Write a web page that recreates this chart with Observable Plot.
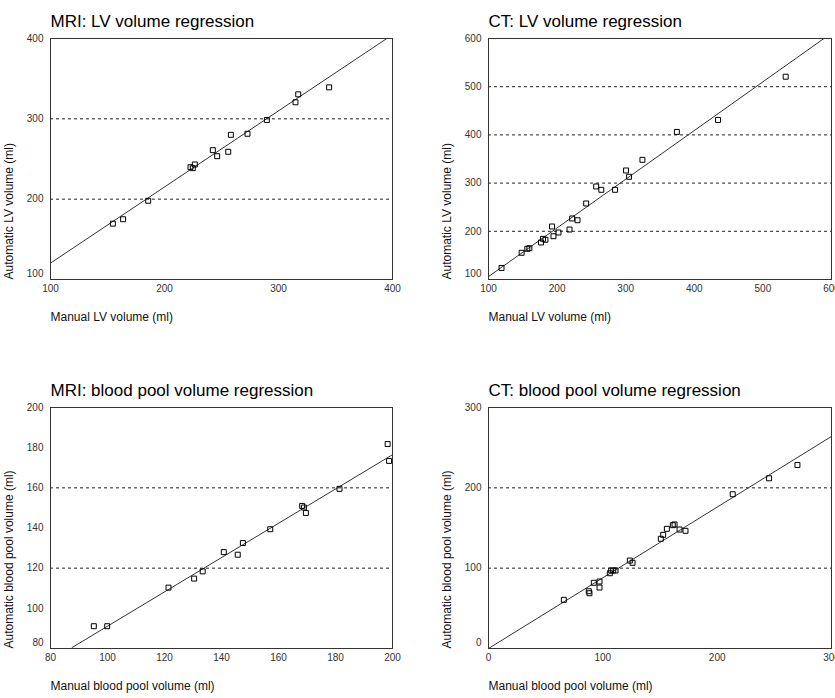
<!DOCTYPE html>
<html>
<head>
<meta charset="utf-8">
<script src="https://cdn.jsdelivr.net/npm/d3@7"></script>
<script src="https://cdn.jsdelivr.net/npm/@observablehq/plot@0.6"></script>
<style>
  html, body { margin: 0; padding: 0; background: #fff; }
  #wrap { position: relative; width: 835px; height: 698px; overflow: hidden; font-family: "Liberation Sans", Arial, sans-serif; }
  .panel { position: absolute; }
</style>
</head>
<body>
<div id="wrap"></div>
<script>
// ---------- data ----------
const titles = ["MRI: LV volume regression", "CT: LV volume regression",
                "MRI: blood pool volume regression", "CT: blood pool volume regression"];
const xLabels = ["Manual LV volume (ml)", "Manual LV volume (ml)",
                 "Manual blood pool volume (ml)", "Manual blood pool volume (ml)"];
const yLabels = ["Automatic LV volume (ml)", "Automatic LV volume (ml)",
                 "Automatic blood pool volume (ml)", "Automatic blood pool volume (ml)"];

// MRI LV
const mriLvManual = [154.7, 163.7, 185.7, 222.8, 224.8, 226.6, 242.4, 246.2, 255.9, 258.2, 272.8, 289.8, 314.9, 317.3, 344.4];
const mriLvAuto   = [169.5, 175.0, 198.0, 239.8, 238.6, 243.2, 261.0, 253.5, 259.0, 280.1, 281.4, 298.6, 320.6, 330.5, 339.2];
const mriLvFitX = [100, 395];
const mriLvFitY = [120.4, 400];
const mriLvXTicks = [100, 200, 300, 400];
const mriLvYTicks = [100, 200, 300, 400];
const mriLvGrid = [200, 300];

// CT LV
const ctLvManual = [119, 148.3, 156.6, 159.6, 176.5, 179.5, 183.0, 192.6, 194.7, 202.0, 218.1, 221.9, 229.8, 242.4, 257.0, 264.4, 284.4, 300.5, 304.9, 324.4, 374.6, 434.6, 533.2];
const ctLvAuto   = [124, 155.4, 163.7, 164.9, 176.8, 184.4, 182.4, 210.0, 189.8, 197.5, 203.7, 226.6, 223.0, 257.7, 293.0, 286.1, 286.1, 326.2, 313.1, 348.3, 406.2, 431.0, 520.7];
const ctLvFitX = [100, 589];
const ctLvFitY = [106, 600];
const ctLvXTicks = [100, 200, 300, 400, 500, 600];
const ctLvYTicks = [100, 200, 300, 400, 500, 600];
const ctLvGrid = [200, 300, 400, 500];

// MRI blood pool
const mriBpManual = [95.2, 99.9, 121.4, 130.4, 133.4, 140.8, 145.7, 147.5, 157.1, 168.3, 168.9, 169.6, 181.4, 198.3, 198.8];
const mriBpAuto   = [91.1, 91.1, 110.3, 114.8, 118.4, 128.0, 126.7, 132.5, 139.4, 151.0, 150.2, 147.5, 159.5, 181.8, 173.4];
const mriBpFitX = [87.6, 200];
const mriBpFitY = [80.5, 176.5];
const mriBpXTicks = [80, 100, 120, 140, 160, 180, 200];
const mriBpYTicks = [80, 100, 120, 140, 160, 180, 200];
const mriBpGrid = [120, 160];

// CT blood pool
const ctBpManual = [65.9, 87.7, 88.3, 92.1, 97.1, 97.1, 106.1, 107.3, 109.1, 111.1, 123.6, 126.0, 150.7, 152.8, 156.0, 161.2, 162.7, 167.1, 172.3, 213.6, 245.4, 270.2];
const ctBpAuto   = [60.6, 71.3, 68.8, 81.8, 83.4, 75.9, 93.7, 97.1, 97.1, 97.1, 109.5, 106.7, 136.6, 141.5, 149.0, 153.5, 154.4, 148.1, 146.5, 192.0, 211.9, 228.4];
const ctBpFitX = [0, 300];
const ctBpFitY = [0, 264];
const ctBpXTicks = [0, 100, 200, 300];
const ctBpYTicks = [0, 100, 200, 300];
const ctBpGrid = [100, 200];

// ---------- layout ----------
const panels = [
  {i: 0, xs: mriLvManual, ys: mriLvAuto, fitX: mriLvFitX, fitY: mriLvFitY, xT: mriLvXTicks, yT: mriLvYTicks, grid: mriLvGrid,
   left: 0, top: 0, width: 410, height: 330, mL: 50, mR: 18, mT: 38, mB: 51},
  {i: 1, xs: ctLvManual, ys: ctLvAuto, fitX: ctLvFitX, fitY: ctLvFitY, xT: ctLvXTicks, yT: ctLvYTicks, grid: ctLvGrid,
   left: 410, top: 0, width: 425, height: 330, mL: 78, mR: 4, mT: 38, mB: 51},
  {i: 2, xs: mriBpManual, ys: mriBpAuto, fitX: mriBpFitX, fitY: mriBpFitY, xT: mriBpXTicks, yT: mriBpYTicks, grid: mriBpGrid,
   left: 0, top: 340, width: 410, height: 358, mL: 50, mR: 18, mT: 67, mB: 50},
  {i: 3, xs: ctBpManual, ys: ctBpAuto, fitX: ctBpFitX, fitY: ctBpFitY, xT: ctBpXTicks, yT: ctBpYTicks, grid: ctBpGrid,
   left: 410, top: 340, width: 425, height: 358, mL: 78, mR: 4, mT: 67, mB: 50}
];

const wrap = document.getElementById("wrap");
const FONT = "'Liberation Sans', Arial, sans-serif";

for (const p of panels) {
  const pts = p.xs.map((x, k) => ({x, y: p.ys[k]}));
  const fit = p.fitX.map((x, k) => ({x, y: p.fitY[k]}));
  const xDom = [p.xT[0], p.xT[p.xT.length - 1]];
  const yDom = [p.yT[0], p.yT[p.yT.length - 1]];
  const chart = Plot.plot({
    width: p.width, height: p.height,
    marginLeft: p.mL, marginRight: p.mR, marginTop: p.mT, marginBottom: p.mB,
    x: {domain: xDom},
    y: {domain: yDom},
    style: {fontFamily: FONT, fontSize: "10px", background: "transparent", overflow: "visible"},
    marks: [
      Plot.ruleY(p.grid, {stroke: "#222", strokeWidth: 1, strokeDasharray: "3,3"}),
      Plot.line(fit, {x: "x", y: "y", stroke: "#333", strokeWidth: 1}),
      Plot.dot(pts, {x: "x", y: "y", symbol: "square", r: 2.8, stroke: "#000", strokeWidth: 1, fill: "none"}),
      Plot.frame({stroke: "#333"}),
      Plot.axisX(p.xT, {tickSize: 0, tickPadding: 5, label: null, fill: "#333", fontSize: 10}),
      Plot.axisY(p.yT.slice(1), {tickSize: 0, tickPadding: 7, label: null, fill: "#333", fontSize: 10}),
      Plot.axisY(p.yT.slice(0, 1), {tickSize: 0, tickPadding: 7, label: null, fill: "#333", fontSize: 10, dy: -6}),
      Plot.text([titles[p.i]], {frameAnchor: "top-left", textAnchor: "start", dy: -23.4, fontSize: 17, fill: "#000"}),
      Plot.text([xLabels[p.i]], {frameAnchor: "bottom-left", textAnchor: "start", dy: 41, fontSize: 12, fill: "#111"}),
      Plot.text([yLabels[p.i]], {frameAnchor: "bottom-left", textAnchor: "start", rotate: -90, dx: -37.5, fontSize: 12, fill: "#111"})
    ]
  });
  const div = document.createElement("div");
  div.className = "panel";
  div.style.left = p.left + "px";
  div.style.top = p.top + "px";
  div.appendChild(chart);
  wrap.appendChild(div);
}
</script>
</body>
</html>
